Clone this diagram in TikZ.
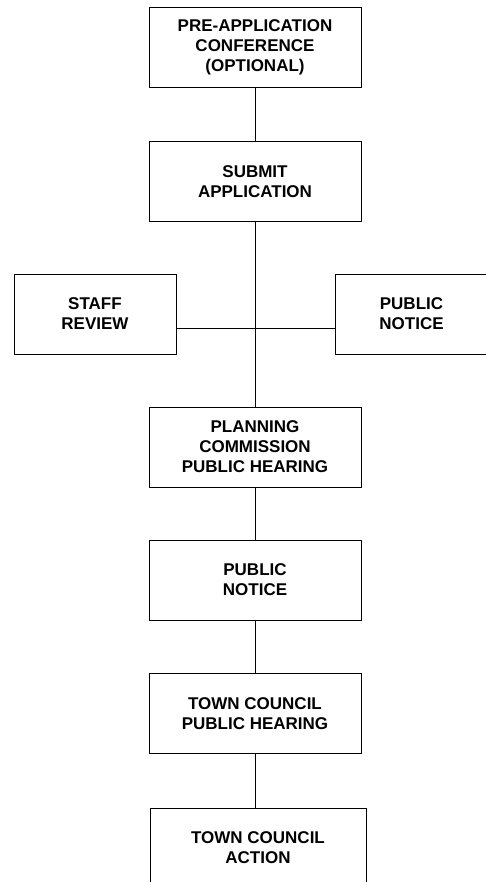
\documentclass[tikz,border=0pt]{standalone}
\usepackage{fontspec}
\setmainfont{Liberation Sans}
\usetikzlibrary{positioning,calc}

\begin{document}
\begin{tikzpicture}[x=1pt,y=-1pt,
   box/.style={draw,line width=0.8pt,minimum width=#1,minimum height=80pt,inner sep=0pt,align=center,font=\bfseries\fontsize{17}{20}\selectfont},
   box/.default=212pt,
   link/.style={line width=0.8pt}]
  \useasboundingbox (0,0) rectangle (485,882);
  % main column
  \foreach \nm/\y/\txt in
     {pre/47/{PRE-APPLICATION\\CONFERENCE\\(OPTIONAL)},
      submit/181.5/{SUBMIT\\APPLICATION},
      planning/447/{PLANNING\\COMMISSION\\PUBLIC HEARING},
      notice/580/{PUBLIC\\NOTICE},
      hearing/713.5/{TOWN COUNCIL\\PUBLIC HEARING}}{
     \node[box] (\nm) at (255,\y) {\txt};}
  \node[box=216pt] (action) at (258,848) {TOWN COUNCIL\\ACTION};
  % side boxes
  \node[box=162pt] (staff) at (95,314) {STAFF\\REVIEW};
  \node[box=153pt] (pubnotice) at (411.5,314) {PUBLIC\\NOTICE};
  \coordinate (hub) at (255,328);
  \foreach \x/\y in {pre/submit,submit/planning,planning/notice,notice/hearing,hearing/action}{
     \draw[link] (\x.south) -- (\x.south |- \y.north);}
  \draw[link] (hub -| staff.east) -- (hub -| pubnotice.west);
\end{tikzpicture}
\end{document}
